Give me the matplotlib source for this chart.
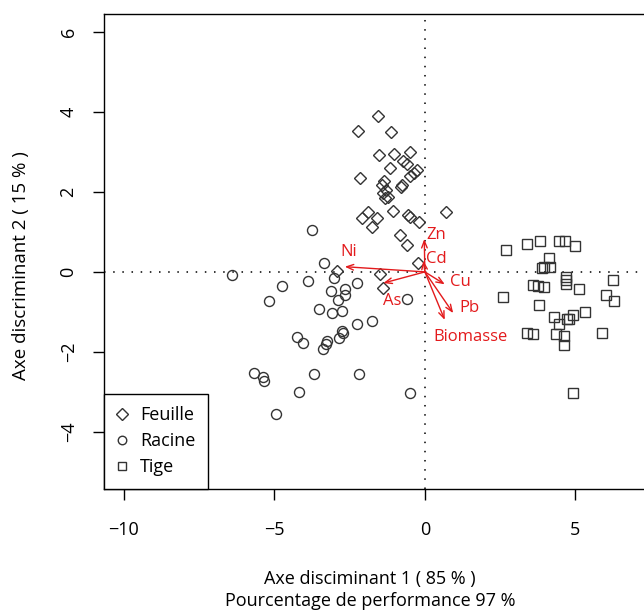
import numpy as np
import matplotlib
matplotlib.use("Agg")
import matplotlib.pyplot as plt

plt.rcParams['font.family'] = ['Open Sans', 'DejaVu Sans']

# scores on the two discriminant axes, by organ
feuille_x = [-1.57, -2.22, -1.14, -1.52, -1.03, -0.50, -0.72, -0.61, -1.16, -0.26,
             -0.37, -0.50, -2.14, -1.35, -1.41, -0.77, -0.80, -1.30, -1.38, -1.22,
             -1.33, -1.88, -1.05, -0.55, -0.50, -2.10, -1.60, -0.20, -1.75, 0.69,
             -0.83, -0.61, -0.22, -1.50, -1.38, -2.93]
feuille_y = [3.91, 3.53, 3.51, 2.93, 2.94, 3.01, 2.78, 2.70, 2.59, 2.55,
             2.48, 2.40, 2.34, 2.28, 2.18, 2.18, 2.12, 2.05, 1.98, 1.88,
             1.84, 1.51, 1.52, 1.43, 1.38, 1.34, 1.34, 1.26, 1.13, 1.51,
             0.93, 0.68, 0.23, -0.06, -0.41, 0.01]

racine_x = [-3.76, -3.35, -6.40, -3.01, -3.88, -4.74, -3.12, -5.17, -3.51, -3.10,
            -4.26, -4.04, -3.25, -3.29, -3.38, -5.68, -5.37, -5.35, -3.68, -4.19,
            -4.96, -2.64, -2.25, -2.90, -2.66, -2.75, -2.24, -1.77, -2.75, -2.71,
            -2.86, -2.18, -0.61, -0.50]
racine_y = [1.05, 0.22, -0.08, -0.16, -0.24, -0.35, -0.48, -0.74, -0.93, -1.03,
            -1.62, -1.77, -1.72, -1.80, -1.93, -2.53, -2.63, -2.73, -2.56, -3.01,
            -3.55, -0.43, -0.28, -0.70, -0.58, -0.99, -1.31, -1.24, -1.49, -1.53,
            -1.66, -2.56, -0.68, -3.02]

tige_x = [2.68, 3.40, 3.82, 4.45, 4.65, 4.98, 4.13, 3.88, 3.95, 4.17,
          4.68, 4.68, 4.68, 3.60, 3.77, 3.96, 6.24, 5.12, 2.58, 6.01,
          6.28, 3.79, 5.32, 4.29, 4.93, 4.73, 4.45, 4.79, 3.40, 3.60,
          4.35, 4.62, 4.62, 5.87, 4.93]
tige_y = [0.55, 0.70, 0.78, 0.78, 0.78, 0.65, 0.34, 0.09, 0.11, 0.11,
          -0.12, -0.20, -0.30, -0.33, -0.35, -0.37, -0.20, -0.43, -0.62, -0.58,
          -0.74, -0.83, -1.01, -1.12, -1.08, -1.18, -1.30, -1.18, -1.53, -1.56,
          -1.55, -1.60, -1.83, -1.53, -3.02]

# variable loadings (arrows from the origin)
variables = ["Zn", "Cd", "Ni", "As", "Cu", "Pb", "Biomasse"]
var_x = [-0.02, -0.05, -2.66, -1.38, 0.66, 0.94, 0.66]
var_y = [0.82, 0.28, 0.13, -0.28, -0.31, -1.03, -1.20]
# label anchor (offset in data units from the arrow tip)
lab_dx = [0.40, 0.42, 0.12, 0.28, 0.52, 0.55, 0.85]
lab_dy = [0.10, 0.05, 0.38, -0.45, 0.05, 0.12, -0.42]

red = "#e31a1c"
ink = "#333333"

fig = plt.figure(figsize=(6.44, 6.10), dpi=100)
ax = fig.add_axes([104/644, 121/610, 540/644, 475/610])

ax.axhline(0, color="black", lw=1.1, ls=(0, (1, 5)), zorder=1)
ax.axvline(0, color="black", lw=1.1, ls=(0, (1, 5)), zorder=1)

ax.plot(feuille_x, feuille_y, ls="none", marker="D", ms=6.6, mfc="none",
        mec=ink, mew=1.0, label="Feuille")
ax.plot(racine_x, racine_y, ls="none", marker="o", ms=7.2, mfc="none",
        mec=ink, mew=1.0, label="Racine")
ax.plot(tige_x, tige_y, ls="none", marker="s", ms=6.8, mfc="none",
        mec=ink, mew=1.0, label="Tige")

for name, vx, vy, dx, dy in zip(variables, var_x, var_y, lab_dx, lab_dy):
    ax.annotate("", xy=(vx, vy), xytext=(0, 0),
                arrowprops=dict(arrowstyle="->,head_length=0.5,head_width=0.2",
                                color=red, lw=1.0, shrinkA=0, shrinkB=0))
    ax.text(vx + dx, vy + dy, name, color=red, fontsize=12,
            ha="center", va="center")

ax.set_xlim(-10.66, 7.28)
ax.set_ylim(-5.43, 6.45)
ax.set_xticks([-10, -5, 0, 5])
ax.set_yticks([-4, -2, 0, 2, 4, 6])
ax.tick_params(direction="out", length=8, width=1, labelsize=13)
ax.tick_params(axis="x", pad=15)
ax.tick_params(axis="y", pad=11)
for lab in ax.get_yticklabels():
    lab.set_rotation(90)
    lab.set_va("center")
ax.spines["right"].set_visible(False)
for s in ["left", "bottom", "top"]:
    ax.spines[s].set_linewidth(1.0)

ax.set_xlabel("Axe disciminant 1 ( 85 % )\nPourcentage de performance 97 %",
              fontsize=13, linespacing=1.25, va="top")
ax.xaxis.set_label_coords(0.493, -0.171)
ax.set_ylabel("Axe discriminant 2 ( 15 % )", fontsize=13.5, va="center")
ax.yaxis.set_label_coords(-0.154, 0.47)

leg = ax.legend(loc="lower left", bbox_to_anchor=(0, 0), borderaxespad=0,
                fancybox=False, edgecolor="black", fontsize=13,
                markerscale=0.85, handlelength=0.6, handletextpad=0.7,
                labelspacing=0.44, borderpad=0.7, framealpha=1)
leg.get_frame().set_linewidth(1.0)

fig.savefig("out.png", dpi=100)
